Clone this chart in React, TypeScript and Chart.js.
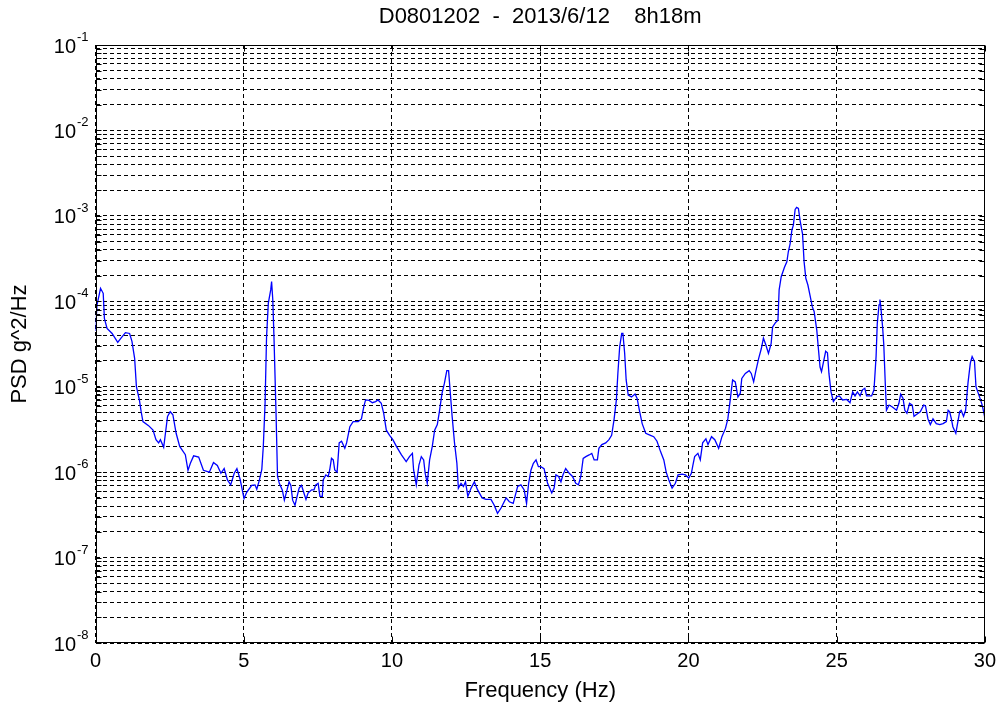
import React, { useEffect, useRef } from "react";
import { Chart, registerables } from "chart.js";

Chart.register(...registerables);

const TITLE = "D0801202  -  2013/6/12    8h18m";
const X_LABEL = "Frequency (Hz)";
const Y_LABEL = "PSD g^2/Hz";

const X_TICKS = [0, 5, 10, 15, 20, 25, 30];
const Y_EXPONENTS = [-8, -7, -6, -5, -4, -3, -2, -1];
const MINOR_MULTIPLIERS = [2, 3, 4, 5, 6, 7, 8, 9];

const freq = [
  0.0, 0.05, 0.17, 0.26, 0.3, 0.39, 0.56, 0.75, 0.86, 1.01, 1.15, 1.23, 1.32, 1.38, 1.48, 1.54, 1.6, 1.79, 1.94,
  2.04, 2.13, 2.19, 2.3, 2.43, 2.52, 2.61, 2.72, 2.84, 3.03, 3.12, 3.2, 3.31, 3.48, 3.64, 3.84, 3.98, 4.11, 4.23,
  4.34, 4.45, 4.56, 4.68, 4.77, 4.88, 5.01, 5.1, 5.27, 5.38, 5.44, 5.53, 5.61, 5.66, 5.72, 5.77, 5.83, 5.91, 5.94,
  5.98, 6.02, 6.09, 6.14, 6.2, 6.3, 6.37, 6.45, 6.53, 6.59, 6.65, 6.73, 6.8, 6.87, 6.95, 7.03, 7.1, 7.17, 7.29,
  7.37, 7.43, 7.51, 7.57, 7.65, 7.68, 7.77, 7.85, 7.9, 7.96, 8.02, 8.07, 8.15, 8.22, 8.3, 8.41, 8.47, 8.58, 8.69,
  8.86, 8.97, 9.05, 9.11, 9.23, 9.34, 9.45, 9.53, 9.64, 9.72, 9.81, 9.92, 10.03, 10.15, 10.32, 10.48, 10.59, 10.69,
  10.73, 10.82, 10.91, 10.99, 11.07, 11.12, 11.19, 11.27, 11.36, 11.44, 11.53, 11.6, 11.69, 11.77, 11.85, 11.91,
  11.96, 12.03, 12.11, 12.19, 12.24, 12.33, 12.41, 12.48, 12.56, 12.67, 12.78, 12.89, 13.04, 13.17, 13.34, 13.45,
  13.56, 13.68, 13.85, 13.96, 14.09, 14.24, 14.35, 14.46, 14.54, 14.61, 14.69, 14.77, 14.86, 14.94, 15.02, 15.13,
  15.25, 15.39, 15.47, 15.53, 15.62, 15.7, 15.77, 15.86, 15.98, 16.09, 16.2, 16.29, 16.37, 16.45, 16.54, 16.65,
  16.74, 16.82, 16.93, 16.98, 17.08, 17.21, 17.32, 17.41, 17.49, 17.57, 17.62, 17.68, 17.75, 17.79, 17.85, 17.9,
  17.97, 18.08, 18.2, 18.27, 18.35, 18.44, 18.56, 18.72, 18.83, 18.94, 19.06, 19.17, 19.25, 19.34, 19.45, 19.56,
  19.65, 19.79, 19.9, 20.01, 20.1, 20.15, 20.21, 20.32, 20.4, 20.48, 20.59, 20.66, 20.78, 20.89, 21.02, 21.13,
  21.25, 21.33, 21.41, 21.49, 21.58, 21.67, 21.75, 21.8, 21.92, 22.05, 22.12, 22.2, 22.27, 22.37, 22.46, 22.53,
  22.61, 22.7, 22.79, 22.84, 22.93, 23.02, 23.06, 23.13, 23.24, 23.32, 23.37, 23.43, 23.49, 23.54, 23.6, 23.65,
  23.71, 23.77, 23.85, 23.9, 23.96, 24.03, 24.1, 24.18, 24.24, 24.33, 24.38, 24.44, 24.49, 24.55, 24.63, 24.69,
  24.74, 24.81, 24.89, 25.0, 25.09, 25.2, 25.34, 25.45, 25.54, 25.62, 25.7, 25.79, 25.87, 25.95, 26.01, 26.18,
  26.26, 26.33, 26.37, 26.43, 26.46, 26.49, 26.55, 26.59, 26.64, 26.68, 26.77, 26.88, 27.02, 27.1, 27.16, 27.24,
  27.3, 27.37, 27.46, 27.55, 27.61, 27.68, 27.82, 27.94, 28.0, 28.08, 28.16, 28.25, 28.36, 28.48, 28.59, 28.7,
  28.76, 28.81, 28.87, 28.92, 29.02, 29.09, 29.15, 29.2, 29.28, 29.35, 29.43, 29.51, 29.57, 29.65, 29.7, 29.82,
  29.91, 29.99, 30.0,
];

const psd = [
  4.5e-5, 9.0e-5, 1.42e-4, 1.24e-4, 6.3e-5, 4.8e-5, 4.2e-5, 3.3e-5, 3.7e-5, 4.3e-5, 4.2e-5, 3.4e-5, 2.15e-5, 1.0e-5,
  7.0e-6, 5.1e-6, 3.9e-6, 3.5e-6, 3.1e-6, 2.4e-6, 2.2e-6, 2.4e-6, 1.95e-6, 4.5e-6, 5.1e-6, 4.7e-6, 2.85e-6, 2.0e-6,
  1.6e-6, 1.05e-6, 1.27e-6, 1.55e-6, 1.5e-6, 1.05e-6, 1.0e-6, 1.3e-6, 1.2e-6, 9.7e-7, 1.1e-6, 8.1e-7, 7.1e-7,
  9.7e-7, 1.1e-6, 8.2e-7, 4.9e-7, 5.8e-7, 7.0e-7, 7.1e-7, 6.3e-7, 8.1e-7, 1.08e-6, 2.0e-6, 6.4e-6, 3.85e-5, 9.5e-5,
  1.36e-4, 1.7e-4, 1.04e-4, 3.85e-5, 4.9e-6, 8.9e-7, 7.4e-7, 6.2e-7, 4.7e-7, 6.0e-7, 7.7e-7, 7.0e-7, 4.7e-7,
  4.1e-7, 5.2e-7, 6.5e-7, 7.0e-7, 5.7e-7, 4.8e-7, 5.7e-7, 6.2e-7, 6.2e-7, 7.1e-7, 7.4e-7, 5.2e-7, 5.2e-7, 8.1e-7,
  9.3e-7, 8.9e-7, 1.06e-6, 1.45e-6, 1.39e-6, 1.06e-6, 1.0e-6, 2.2e-6, 2.3e-6, 1.9e-6, 2.2e-6, 3.4e-6, 3.9e-6,
  3.9e-6, 4.2e-6, 5.85e-6, 7.0e-6, 6.9e-6, 6.5e-6, 6.7e-6, 7.0e-6, 6.4e-6, 4.9e-6, 3.1e-6, 2.7e-6, 2.4e-6, 2.0e-6,
  1.59e-6, 1.33e-6, 1.52e-6, 1.66e-6, 1.06e-6, 7.1e-7, 1.21e-6, 1.52e-6, 1.39e-6, 9.7e-7, 7.4e-7, 1.39e-6, 2.0e-6,
  3.1e-6, 3.6e-6, 5.1e-6, 8.4e-6, 1.1e-5, 1.54e-5, 1.54e-5, 9.2e-6, 4.5e-6, 2.2e-6, 1.27e-6, 6.5e-7, 7.4e-7,
  6.8e-7, 7.7e-7, 5.2e-7, 6.5e-7, 7.7e-7, 6.2e-7, 5.0e-7, 4.8e-7, 4.8e-7, 4.1e-7, 3.3e-7, 3.8e-7, 5.0e-7, 4.5e-7,
  4.3e-7, 6.8e-7, 7.1e-7, 6.2e-7, 4.3e-7, 7.4e-7, 1.06e-6, 1.27e-6, 1.39e-6, 1.16e-6, 1.16e-6, 1.1e-6, 7.4e-7,
  5.7e-7, 6.5e-7, 9.3e-7, 8.9e-7, 7.7e-7, 9.3e-7, 1.1e-6, 9.7e-7, 8.9e-7, 7.4e-7, 7.1e-7, 8.9e-7, 1.45e-6,
  1.52e-6, 1.59e-6, 1.66e-6, 1.39e-6, 1.39e-6, 1.9e-6, 2.1e-6, 2.2e-6, 2.4e-6, 2.7e-6, 4.1e-6, 7.0e-6, 1.43e-5,
  2.9e-5, 4.2e-5, 4.2e-5, 2.45e-5, 1.2e-5, 8.0e-6, 7.6e-6, 8.2e-6, 7.3e-6, 5.2e-6, 3.7e-6, 2.85e-6, 2.7e-6, 2.6e-6,
  2.3e-6, 1.74e-6, 1.39e-6, 1.0e-6, 8.1e-7, 6.5e-7, 7.4e-7, 9.3e-7, 9.5e-7, 9.3e-7, 8.5e-7, 9.7e-7, 1.2e-6,
  1.52e-6, 1.66e-6, 1.39e-6, 2.2e-6, 2.45e-6, 2.1e-6, 2.6e-6, 2.4e-6, 1.9e-6, 2.6e-6, 3.25e-6, 4.2e-6, 7.0e-6,
  1.2e-5, 1.14e-5, 7.6e-6, 8.4e-6, 1.25e-5, 1.43e-5, 1.54e-5, 1.43e-5, 1.14e-5, 1.5e-5, 2.15e-5, 2.8e-5, 3.7e-5,
  3.1e-5, 2.45e-5, 3.2e-5, 5.0e-5, 5.6e-5, 6.0e-5, 1.36e-4, 1.94e-4, 2.5e-4, 2.9e-4, 3.8e-4, 4.7e-4, 6.8e-4,
  7.8e-4, 1.19e-3, 1.26e-3, 1.22e-3, 8.7e-4, 6.1e-4, 2.95e-4, 1.86e-4, 1.55e-4, 1.18e-4, 8.6e-5, 7.6e-5, 4.6e-5,
  2.9e-5, 1.7e-5, 1.5e-5, 1.9e-5, 2.6e-5, 2.5e-5, 1.43e-5, 8.7e-6, 6.7e-6, 7.6e-6, 7.8e-6, 7.0e-6, 7.1e-6, 6.5e-6,
  8.7e-6, 7.8e-6, 8.7e-6, 7.8e-6, 9.2e-6, 9.6e-6, 7.8e-6, 7.8e-6, 9.2e-6, 2.25e-5, 5.5e-5, 9.1e-5, 1.05e-4,
  8.6e-5, 5.0e-5, 3.1e-5, 1.1e-5, 5.3e-6, 6.1e-6, 5.8e-6, 5.3e-6, 6.4e-6, 8.2e-6, 7.3e-6, 5.3e-6, 4.9e-6, 6.4e-6,
  6.1e-6, 4.5e-6, 4.7e-6, 5.1e-6, 6.1e-6, 5.9e-6, 4.2e-6, 3.6e-6, 4.2e-6, 3.7e-6, 3.6e-6, 3.7e-6, 3.9e-6, 5.3e-6,
  5.1e-6, 4.2e-6, 3.4e-6, 2.85e-6, 3.9e-6, 5.1e-6, 5.3e-6, 4.5e-6, 5.3e-6, 1.1e-5, 1.9e-5, 2.25e-5, 1.97e-5,
  1.0e-5, 7.6e-6, 6.1e-6, 4.5e-6, 3.1e-6,
];

const FONT = "'Liberation Sans', Arial, sans-serif";

export default function App() {
  const ref = useRef<HTMLCanvasElement | null>(null);

  useEffect(() => {
    if (!ref.current) return;

    const yTickValues: number[] = [];
    Y_EXPONENTS.forEach((e) => {
      yTickValues.push(Math.pow(10, e));
      if (e < -1) MINOR_MULTIPLIERS.forEach((m) => yTickValues.push(m * Math.pow(10, e)));
    });

    const framePlugin = {
      id: "frame",
      afterDraw(chart: any) {
        const { ctx, chartArea } = chart;
        const { left, right, top, bottom } = chartArea;
        const ys = chart.scales.y;
        const xs = chart.scales.x;
        ctx.save();
        ctx.strokeStyle = "#000";
        ctx.lineWidth = 1;
        ctx.setLineDash([]);
        const L = Math.round(left) + 0.5;
        const R = Math.round(right) - 0.5;
        const T = Math.round(top) + 0.5;
        const B = Math.round(bottom) - 0.5;
        ctx.strokeRect(L, T, R - L, B - T);
        ctx.beginPath();
        yTickValues.forEach((v) => {
          const y = Math.round(ys.getPixelForValue(v)) + 0.5;
          ctx.moveTo(L, y);
          ctx.lineTo(L + 5, y);
          ctx.moveTo(R, y);
          ctx.lineTo(R - 5, y);
        });
        X_TICKS.forEach((v) => {
          const x = Math.round(xs.getPixelForValue(v)) + 0.5;
          ctx.moveTo(x, B);
          ctx.lineTo(x, B - 6);
          ctx.moveTo(x, T);
          ctx.lineTo(x, T + 6);
        });
        ctx.stroke();
        ctx.fillStyle = "#000";
        Y_EXPONENTS.forEach((e) => {
          const y = ys.getPixelForValue(Math.pow(10, e));
          ctx.font = `20px ${FONT}`;
          ctx.textAlign = "right";
          ctx.textBaseline = "middle";
          ctx.fillText("10", 76, y + 2);
          ctx.font = `13px ${FONT}`;
          ctx.textAlign = "left";
          ctx.textBaseline = "alphabetic";
          ctx.fillText(String(e), 77, y - 4);
        });
        ctx.restore();
      },
    };

    const chart = new Chart(ref.current, {
      type: "line",
      data: {
        datasets: [
          {
            data: freq.map((f, i) => ({ x: f, y: psd[i] })),
            borderColor: "#0000ff",
            borderWidth: 1.3,
            pointRadius: 0,
            tension: 0,
            fill: false,
          },
        ],
      },
      options: {
        responsive: false,
        animation: false,
        devicePixelRatio: 1,
        layout: { padding: { left: 0, right: 14.5, top: 0, bottom: 0 } },
        plugins: {
          legend: { display: false },
          tooltip: { enabled: false },
          title: {
            display: true,
            fullSize: false,
            text: TITLE,
            color: "#000",
            font: { family: FONT, size: 22, weight: "normal" },
            padding: { top: 3.8, bottom: 14.8 },
          },
        },
        scales: {
          x: {
            type: "linear",
            min: 0,
            max: 30,
            afterBuildTicks: (scale: any) => {
              scale.ticks = X_TICKS.map((v) => ({ value: v }));
            },
            afterFit: (scale: any) => {
              scale.height = 64;
            },
            ticks: {
              color: "#000",
              font: { family: FONT, size: 20 },
              padding: 6,
              maxRotation: 0,
              autoSkip: false,
            },
            grid: { color: "#000", lineWidth: 1, drawTicks: false },
            border: { display: false, dash: [4, 3] },
            title: {
              display: true,
              text: X_LABEL,
              color: "#000",
              font: { family: FONT, size: 22 },
              padding: { top: 0, bottom: 3 },
            },
          },
          y: {
            type: "logarithmic",
            min: 1e-8,
            max: 1e-1,
            afterBuildTicks: (scale: any) => {
              scale.ticks = yTickValues.map((v) => ({ value: v }));
            },
            afterFit: (scale: any) => {
              scale.width = 95.5;
            },
            ticks: { display: false },
            grid: { color: "#000", lineWidth: 1, drawTicks: false },
            border: { display: false, dash: [4, 3] },
            title: {
              display: true,
              text: Y_LABEL,
              color: "#000",
              font: { family: FONT, size: 22 },
              padding: { top: 7, bottom: 0 },
            },
          },
        },
      },
      plugins: [framePlugin],
    });

    return () => chart.destroy();
  }, []);

  return (
    <div style={{ position: "absolute", left: 0, top: 0, width: 1002, height: 707, background: "#fff" }}>
      <canvas ref={ref} width={1002} height={707} />
    </div>
  );
}
